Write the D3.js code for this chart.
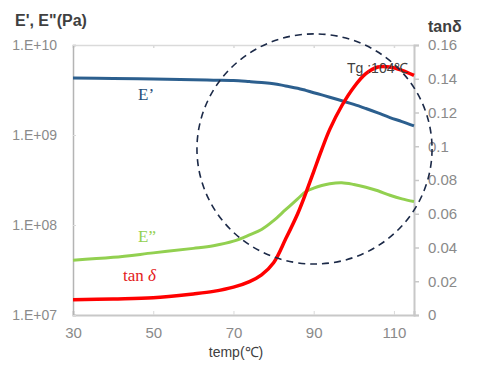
<!DOCTYPE html>
<html>
<head>
<meta charset="utf-8">
<script src="https://cdn.jsdelivr.net/npm/d3@7"></script>
<style>
  body { margin: 0; background: #fff; }
  svg { display: block; font-family: "Liberation Sans", Arial, sans-serif; }
</style>
</head>
<body>
<div id="chart"></div>
<script>
// temperature (°C)
const temps = [30, 40, 50, 60, 65, 70, 74, 77, 80, 83, 86, 88, 90, 92, 94, 97, 100, 103, 106, 109, 112, 115];
// storage modulus E' (Pa)
const storageMod = [4.3e9, 4.25e9, 4.19e9, 4.12e9, 4.07e9, 4.03e9, 3.92e9, 3.83e9, 3.72e9, 3.51e9, 3.31e9, 3.13e9, 2.95e9, 2.79e9, 2.63e9, 2.4e9, 2.19e9, 1.97e9, 1.76e9, 1.56e9, 1.41e9, 1.26e9];
// loss modulus E" (Pa)
const lossMod = [4.07e7, 4.37e7, 4.9e7, 5.5e7, 5.89e7, 6.61e7, 7.76e7, 8.91e7, 1.12e8, 1.48e8, 1.95e8, 2.34e8, 2.57e8, 2.75e8, 2.88e8, 2.95e8, 2.82e8, 2.63e8, 2.4e8, 2.14e8, 1.95e8, 1.82e8];
// tan delta
const tanDelta = [0.009, 0.0095, 0.0102, 0.0125, 0.014, 0.0165, 0.0198, 0.0238, 0.031, 0.045, 0.06, 0.072, 0.085, 0.098, 0.11, 0.124, 0.135, 0.143, 0.147, 0.147, 0.145, 0.142];

const xTicks = [30, 50, 70, 90, 110];
const leftTicks = [1e7, 1e8, 1e9, 1e10];
const rightTicks = [0, 0.02, 0.04, 0.06, 0.08, 0.1, 0.12, 0.14, 0.16];

let width = 482,
    height = 374,
    margin = { top: 45, right: 68, bottom: 59, left: 73 };

const svg = d3.select("#chart")
    .append("svg")
    .attr("width", width)
    .attr("height", height);

let x = d3.scaleLinear()
    .domain([30, 115])
    .range([margin.left, width - margin.right]);

let yE = d3.scaleLog()
    .domain([1e7, 1e10])
    .range([height - margin.bottom, margin.top]);

let yT = d3.scaleLinear()
    .domain([0, 0.16])
    .range([height - margin.bottom, margin.top]);

const gridColor = "#c8c8c8";
const labelColor = "#8a8a8a";

// frame: top line
svg.append("g")
    .attr("transform", `translate(0,${margin.top})`)
    .call(d3.axisTop(x).tickValues(xTicks).tickSize(-3).tickFormat(""))
    .call(g => g.selectAll("line,path").attr("stroke", "#dadada").attr("stroke-width", 1.5));

// bottom axis
svg.append("g")
    .attr("transform", `translate(0,${height - margin.bottom})`)
    .call(d3.axisBottom(x).tickValues(xTicks).tickSize(-4).tickPadding(12))
    .call(g => g.select(".domain").attr("stroke", gridColor).attr("stroke-width", 2))
    .call(g => g.selectAll(".tick line").attr("stroke", "#dadada"))
    .call(g => g.selectAll("text").attr("fill", labelColor).attr("font-size", 15));

// left log axis
svg.append("g")
    .attr("transform", `translate(${margin.left},0)`)
    .call(d3.axisLeft(yE).tickValues(leftTicks).tickSize(-3).tickPadding(16)
        .tickFormat(d => "1.E+" + String(Math.round(Math.log10(d))).padStart(2, "0")))
    .call(g => g.select(".domain").attr("stroke", "#b4b4b4").attr("stroke-width", 1.5))
    .call(g => g.selectAll(".tick line").attr("stroke", "#dadada"))
    .call(g => g.selectAll("text").attr("fill", labelColor).attr("font-size", 14));

// right linear axis
svg.append("g")
    .attr("transform", `translate(${width - margin.right},0)`)
    .call(d3.axisRight(yT).tickValues(rightTicks).tickSize(5).tickPadding(9)
        .tickFormat(d => d === 0 ? "0" : String(+d.toFixed(2))))
    .call(g => g.select(".domain").attr("stroke", gridColor).attr("stroke-width", 2))
    .call(g => g.selectAll(".tick line").attr("stroke", gridColor).attr("stroke-width", 1.5))
    .call(g => g.selectAll("text").attr("fill", labelColor).attr("font-size", 15));

// axis titles
svg.append("text")
    .attr("x", 15)
    .attr("y", 26)
    .attr("fill", "#404040")
    .attr("font-size", 16)
    .attr("font-weight", "bold")
    .text("E', E\"(Pa)");

svg.append("text")
    .attr("x", 428)
    .attr("y", 32)
    .attr("fill", "#404040")
    .attr("font-size", 16)
    .attr("font-weight", "bold")
    .text("tanδ");

svg.append("text")
    .attr("x", 236)
    .attr("y", 357)
    .attr("text-anchor", "middle")
    .attr("fill", "#404040")
    .attr("font-size", 14)
    .text("temp(℃)");

// curves
const data = temps.map((t, i) => ({ t, e1: storageMod[i], e2: lossMod[i], td: tanDelta[i] }));

const smooth = d3.curveCatmullRom.alpha(0.5);
const lineE1 = d3.line().x(d => x(d.t)).y(d => yE(d.e1)).curve(smooth);
const lineE2 = d3.line().x(d => x(d.t)).y(d => yE(d.e2)).curve(smooth);
const lineTD = d3.line().x(d => x(d.t)).y(d => yT(d.td)).curve(smooth);

svg.append("path")
    .datum(data)
    .attr("d", lineE1)
    .attr("fill", "none")
    .attr("stroke", "#2c5f8e")
    .attr("stroke-width", 3);

svg.append("path")
    .datum(data)
    .attr("d", lineE2)
    .attr("fill", "none")
    .attr("stroke", "#92d050")
    .attr("stroke-width", 3);

svg.append("path")
    .datum(data)
    .attr("d", lineTD)
    .attr("fill", "none")
    .attr("stroke", "#ff0000")
    .attr("stroke-width", 3.5);

// dashed circle highlighting the transition
const ring = { t: 90.2, td: 0.0984, rt: 29.3, rtd: 0.0682 };
svg.append("ellipse")
    .attr("cx", x(ring.t))
    .attr("cy", yT(ring.td))
    .attr("rx", x(ring.t + ring.rt) - x(ring.t))
    .attr("ry", yT(0) - yT(ring.rtd))
    .attr("fill", "none")
    .attr("stroke", "#1c2a48")
    .attr("stroke-width", 1.6)
    .attr("stroke-dasharray", "7,5");

// series labels
svg.append("text")
    .attr("x", 138)
    .attr("y", 100)
    .attr("fill", "#1f4e79")
    .attr("font-family", "Liberation Serif, serif")
    .attr("font-size", 17)
    .text("E’");

svg.append("text")
    .attr("x", 138)
    .attr("y", 242)
    .attr("fill", "#92d050")
    .attr("font-family", "Liberation Serif, serif")
    .attr("font-size", 17)
    .text("E”");

const tanLabel = svg.append("text")
    .attr("x", 123)
    .attr("y", 281)
    .attr("fill", "#e31a1a")
    .attr("font-family", "Liberation Serif, serif")
    .attr("font-size", 17);
tanLabel.append("tspan").text("tan ");
tanLabel.append("tspan").attr("font-style", "italic").text("δ");

svg.append("text")
    .attr("x", 347)
    .attr("y", 73)
    .attr("fill", "#404040")
    .attr("font-size", 14)
    .text("Tg :104℃");
</script>
</body>
</html>
